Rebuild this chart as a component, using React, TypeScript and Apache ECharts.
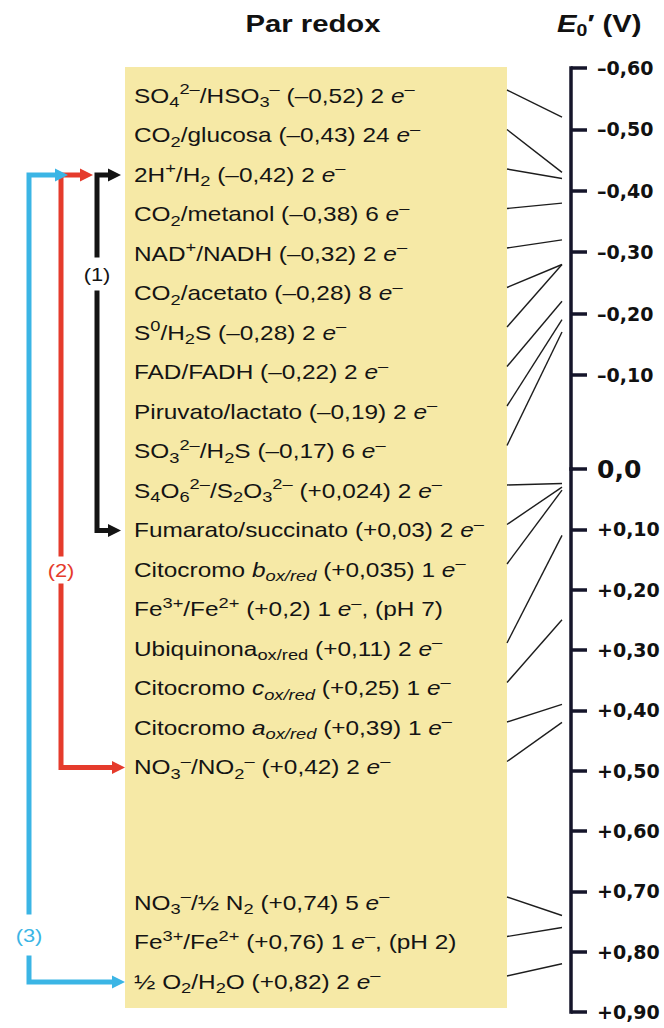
import React, { useEffect, useRef } from "react";
import * as echarts from "echarts";

// ---------------- data ----------------
const couples = [
  "SO{s|4}{p|2–}/HSO{s|3}{p|–}",
  "CO{s|2}/glucosa",
  "2H{p|+}/H{s|2}",
  "CO{s|2}/metanol",
  "NAD{p|+}/NADH",
  "CO{s|2}/acetato",
  "S{p|0}/H{s|2}S",
  "FAD/FADH",
  "Piruvato/lactato",
  "SO{s|3}{p|2–}/H{s|2}S",
  "S{s|4}O{s|6}{p|2–}/S{s|2}O{s|3}{p|2–}",
  "Fumarato/succinato",
  "Citocromo {i|b}{si|ox/red}",
  "Fe{p|3+}/Fe{p|2+}",
  "Ubiquinona{s|ox/red}",
  "Citocromo {i|c}{si|ox/red}",
  "Citocromo {i|a}{si|ox/red}",
  "NO{s|3}{p|–}/NO{s|2}{p|–}",
  "NO{s|3}{p|–}/{f|½} N{s|2}",
  "Fe{p|3+}/Fe{p|2+}",
  "{f|½} O{s|2}/H{s|2}O",
];
const potentials = [
  -0.52, -0.43, -0.42, -0.38, -0.32, -0.28, -0.28, -0.22, -0.19, -0.17,
  0.024, 0.03, 0.035, 0.2, 0.11, 0.25, 0.39, 0.42, 0.74, 0.76, 0.82,
];
const electrons = [2, 24, 2, 6, 2, 8, 2, 2, 2, 6, 2, 2, 1, 1, 2, 1, 1, 2, 5, 1, 2];
const conditions = [
  "", "", "", "", "", "", "", "", "", "", "", "", "",
  "(pH 7)", "", "", "", "", "", "(pH 2)", "",
];
const unlinkedRows = [13];
const axisTickValues = [-0.6, -0.5, -0.4, -0.3, -0.2, -0.1, 0, 0.1, 0.2, 0.3, 0.4, 0.5, 0.6, 0.7, 0.8, 0.9];
const axisTickLabels = [
  "–0,60", "–0,50", "–0,40", "–0,30", "–0,20", "–0,10", "0,0",
  "+0,10", "+0,20", "+0,30", "+0,40", "+0,50", "+0,60", "+0,70", "+0,80", "+0,90",
];
const pathwayLabels = ["(1)", "(2)", "(3)"];
const pathwayFrom = [2, 2, 2];
const pathwayTo = [11, 17, 20];
const titleText = "Par redox";
const axisTitleText = "{E|E}{s|0}′ (V)";

// ---------------- layout / style ----------------
const FONT = "'Liberation Sans', Arial, Helvetica, sans-serif";
const AXIS_FONT = "'DejaVu Sans', Verdana, sans-serif";
const INK = "#141414";
const AXIS_INK = "#15152a";
const STRETCH = 1.22;
const ROW0 = 96;
const ROW_GAP = 39.5;
const SECTION_BREAK = 18;
const SECTION_GAP = 96;
const rowY = (i: number) => ROW0 + i * ROW_GAP + (i >= SECTION_BREAK ? SECTION_GAP : 0);
const TEXT_X = 134;
const BOX = { x: 125, y: 67, w: 382, h: 941 };
const AXIS_X = 571;
const AXIS_TOP = 68;
const ZERO_Y = 469;
const AXIS_BOTTOM = 1012;
const STEP_NEG = 61.4; // px per 0.1 V on the upper part
const NEG_MIN = -0.6;
const NEG_MAX = NEG_MIN + (ZERO_Y - AXIS_TOP) / (STEP_NEG * 10);
const POS_MIN = 0;
const POS_MAX = 0.9;
const LINK_DY = 6;
const LINK_GAP = 9;
const PATH_COLORS = ["#141414", "#e53b2c", "#3bb5e5"];
const PATH_X = [97, 61, 29];
const TOP_TIP_X = [121, 93, 68];
const BOTTOM_TIP_X = [121, 125, 125];
const LABEL_Y = [274, 570, 935];
const LABEL_PAD = [[7, 1], [4, 1], [11, 1]];
const HEAD_L = 13;
const HEAD_W = 6.5;

const fmtV = (v: number) => (v < 0 ? "–" : "+") + String(Math.abs(v)).replace(".", ",");

const rowRich = {
  s: { fontSize: 15, fontFamily: FONT, fill: INK, verticalAlign: "bottom" },
  p: { fontSize: 15, fontFamily: FONT, fill: INK, verticalAlign: "top" },
  i: { fontSize: 20, fontFamily: FONT, fill: INK, fontStyle: "italic" },
  si: { fontSize: 15, fontFamily: FONT, fill: INK, fontStyle: "italic", verticalAlign: "bottom" },
  f: { fontSize: 21, fontFamily: FONT, fill: INK },
};

const fmtTick = (v: number) => {
  const k = axisTickValues.findIndex((t) => Math.abs(t - v) < 1e-6);
  const s = k >= 0 ? axisTickLabels[k] : "";
  return Math.abs(v) < 1e-6 ? `{z|${s}}` : s;
};

const yAxisFor = (grid: number, min: number, max: number, ticks: number[]) => ({
  gridIndex: grid,
  type: "value",
  inverse: true,
  min,
  max,
  position: "left",
  axisLine: { show: true, onZero: false, lineStyle: { color: AXIS_INK, width: 3.5, cap: "square" } },
  axisTick: { show: true, inside: true, length: 16, customValues: ticks, lineStyle: { color: AXIS_INK, width: 3.5 } },
  axisLabel: {
    show: true,
    inside: true,
    margin: 26,
    customValues: ticks,
    formatter: fmtTick,
    color: "#111",
    fontFamily: AXIS_FONT,
    fontWeight: "bold",
    fontSize: 19,
    showMinLabel: true,
    showMaxLabel: true,
    rich: { z: { fontFamily: AXIS_FONT, fontWeight: "bold", fontSize: 25, color: "#111" } },
  },
  splitLine: { show: false },
});

const linkSeries = (grid: number) => ({
  type: "custom",
  coordinateSystem: "cartesian2d",
  xAxisIndex: grid,
  yAxisIndex: grid,
  silent: true,
  clip: false,
  encode: { x: 0, y: 1 },
  data: potentials
    .map((v, i) => [0, v, i])
    .filter(([, v, i]) => !unlinkedRows.includes(i) && (grid === 0 ? v < 0 : v >= 0)),
  renderItem: (_p: any, api: any) => {
    const row = api.value(2);
    const end = api.coord([0, api.value(1)]);
    return {
      type: "line",
      shape: { x1: BOX.x + BOX.w, y1: rowY(row) - LINK_DY, x2: end[0] - LINK_GAP, y2: end[1] },
      style: { stroke: "#1d1d1d", lineWidth: 1.4 },
    };
  },
});

function buildGraphics() {
  const els: any[] = [];
  els.push({ type: "rect", shape: { x: BOX.x, y: BOX.y, width: BOX.w, height: BOX.h }, style: { fill: "#f6e9a6" }, silent: true });
  els.push({
    type: "text", x: 313, y: 24, scaleX: STRETCH,
    style: { text: titleText, fontSize: 24, fontWeight: "bold", fontFamily: FONT, fill: "#111", align: "center", verticalAlign: "middle" },
  });
  els.push({
    type: "text", x: 557, y: 24, scaleX: STRETCH,
    style: {
      text: axisTitleText, fontSize: 24, fontWeight: "bold", fontFamily: FONT, fill: "#111",
      align: "left", verticalAlign: "middle", lineHeight: 30,
      rich: {
        E: { fontSize: 24, fontWeight: "bold", fontStyle: "italic", fontFamily: FONT, fill: "#111" },
        s: { fontSize: 16, fontWeight: "bold", fontFamily: FONT, fill: "#111", verticalAlign: "bottom" },
      },
    },
  });
  couples.forEach((c, i) => {
    const note = conditions[i] ? `, ${conditions[i]}` : "";
    const text = `${c} (${fmtV(potentials[i])}) ${electrons[i]} {i|e}{p|–}${note}`;
    els.push({
      type: "text", x: TEXT_X, y: rowY(i), scaleX: STRETCH,
      style: { text, fontSize: 20, fontFamily: FONT, fill: INK, align: "left", verticalAlign: "middle", lineHeight: 28, rich: rowRich },
    });
  });
  const order = [1, 2, 0];
  order.forEach((k) => {
    const yT = rowY(pathwayFrom[k]);
    const yB = rowY(pathwayTo[k]);
    const x = PATH_X[k];
    const col = PATH_COLORS[k];
    els.push({
      type: "polyline",
      shape: { points: [[TOP_TIP_X[k] - HEAD_L + 1, yT], [x, yT], [x, yB], [BOTTOM_TIP_X[k] - HEAD_L + 1, yB]] },
      style: { stroke: col, lineWidth: 5, fill: null, lineJoin: "miter" },
      silent: true,
    });
    els.push({
      type: "polygon",
      shape: { points: [[TOP_TIP_X[k], yT], [TOP_TIP_X[k] - HEAD_L, yT - HEAD_W], [TOP_TIP_X[k] - HEAD_L, yT + HEAD_W]] },
      style: { fill: col },
      silent: true,
    });
    els.push({
      type: "polygon",
      shape: { points: [[BOTTOM_TIP_X[k], yB], [BOTTOM_TIP_X[k] - HEAD_L, yB - HEAD_W], [BOTTOM_TIP_X[k] - HEAD_L, yB + HEAD_W]] },
      style: { fill: col },
      silent: true,
    });
    els.push({
      type: "text", x, y: LABEL_Y[k], scaleX: 1.15,
      style: {
        text: pathwayLabels[k], fontSize: 19, fontFamily: FONT, fill: col, align: "center", verticalAlign: "middle",
        backgroundColor: "#ffffff", padding: LABEL_PAD[k],
      },
    });
  });
  return els;
}

export default function App() {
  const ref = useRef<HTMLDivElement>(null);
  useEffect(() => {
    if (!ref.current) return;
    const chart = echarts.init(ref.current, null, { renderer: "svg" });
    const negTicks = axisTickValues.filter((v) => v < 0);
    const posTicks = axisTickValues.filter((v) => v >= 0);
    chart.setOption({
      animation: false,
      backgroundColor: "#ffffff",
      grid: [
        { left: AXIS_X, top: AXIS_TOP, width: 60, height: ZERO_Y - AXIS_TOP, outerBoundsMode: "none" },
        { left: AXIS_X, top: ZERO_Y, width: 60, height: AXIS_BOTTOM - ZERO_Y, outerBoundsMode: "none" },
      ],
      xAxis: [
        { gridIndex: 0, type: "value", show: false, min: 0, max: 1 },
        { gridIndex: 1, type: "value", show: false, min: 0, max: 1 },
      ],
      yAxis: [
        yAxisFor(0, NEG_MIN, NEG_MAX, negTicks),
        yAxisFor(1, POS_MIN, POS_MAX, posTicks),
      ],
      graphic: { elements: buildGraphics() },
      series: [linkSeries(0), linkSeries(1)],
    });
    return () => chart.dispose();
  }, []);
  return <div ref={ref} style={{ position: "absolute", left: 0, top: 0, width: 664, height: 1028 }} />;
}
